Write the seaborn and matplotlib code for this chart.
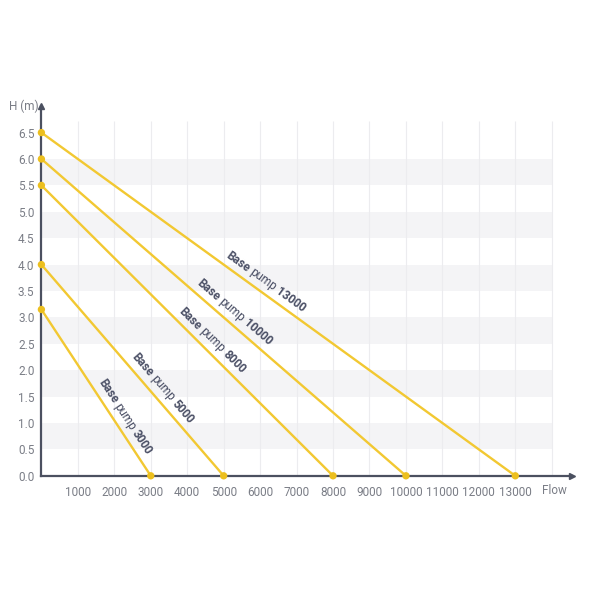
import numpy as np
import pandas as pd
import seaborn as sns
import matplotlib.pyplot as plt

# Pump curves: max flow (H = 0) and max head (flow = 0)
pumps = ['3000', '5000', '8000', '10000', '13000']
max_flow = [3000, 5000, 8000, 10000, 13000]
max_head = [3.15, 4.0, 5.5, 6.0, 6.5]
label_frac = [0.68, 0.62, 0.56, 0.51, 0.46]   # where the label sits along the line

x_ticks = list(range(1000, 14000, 1000))
y_ticks = [i * 0.5 for i in range(14)]

rows = []
for p, q, h in zip(pumps, max_flow, max_head):
    rows.append({'pump': p, 'flow': 0, 'head': h})
    rows.append({'pump': p, 'flow': q, 'head': 0})
df = pd.DataFrame(rows)

sns.set_theme(style='white')
plt.rcParams['font.family'] = ['Roboto', 'DejaVu Sans']

line_col = '#f2c832'
dot_col = '#ecbf1e'
axis_col = '#4b5060'
tick_col = '#7a7d86'
text_col = '#4b5066'
fs = 8.5

fig = plt.figure(figsize=(6, 6), dpi=100)
ax = fig.add_axes([0.069, 0.207, 0.884, 0.616])
ax.set_xlim(0, 14550)
ax.set_ylim(0, 7.0)

# light grey bands and vertical grid
for lo in [0.5, 1.5, 2.5, 3.5, 4.5, 5.5]:
    ax.fill_between([0, 14000], lo, lo + 0.5, color='#f4f4f6', lw=0, zorder=0)
ax.vlines(list(range(1000, 15000, 1000)), 0, 6.72, color='#ececef', lw=0.8, zorder=0.5)

sns.lineplot(data=df, x='flow', y='head', units='pump', estimator=None,
             color=line_col, lw=1.7, ax=ax, zorder=3)
sns.scatterplot(data=df, x='flow', y='head', color=dot_col, s=28,
                edgecolor='none', ax=ax, zorder=4, clip_on=False)

for s in ['top', 'right']:
    ax.spines[s].set_visible(False)
for s in ['left', 'bottom']:
    ax.spines[s].set_color(axis_col)
    ax.spines[s].set_linewidth(1.6)
ax.plot(1, 0, '>', color=axis_col, ms=4, transform=ax.transAxes, clip_on=False)
ax.plot(0, 1, '^', color=axis_col, ms=4, transform=ax.transAxes, clip_on=False)

ax.set_xticks(x_ticks)
ax.set_xticklabels([str(t) for t in x_ticks])
ax.set_yticks(y_ticks)
ax.set_yticklabels([f'{t:.1f}' for t in y_ticks])
ax.tick_params(axis='both', length=0, labelsize=fs, labelcolor=tick_col)
ax.tick_params(axis='x', pad=7)
ax.tick_params(axis='y', pad=5)
ax.set_xlabel('')
ax.set_ylabel('')

ax.text(-0.005, 1.0, 'H (m)', transform=ax.transAxes, ha='right', va='center',
        fontsize=fs, color=tick_col)
ax.annotate('Flow', xy=(13740, 0), xytext=(0, -10.5), textcoords='offset points',
            ha='left', va='center', fontsize=fs, color=tick_col,
            annotation_clip=False)

# rotated labels: bold / regular / bold parts
fig.canvas.draw()
renderer = fig.canvas.get_renderer()


def part_width(s, weight):
    t = fig.text(0, 0, s, fontsize=fs, fontweight=weight)
    w = t.get_window_extent(renderer).width
    t.remove()
    return w


space = part_width('a a', 'normal') - part_width('aa', 'normal')
for p, q, h, f in zip(pumps, max_flow, max_head, label_frac):
    p0 = ax.transData.transform((0, h))
    p1 = ax.transData.transform((q, 0))
    d = p1 - p0
    ang = np.degrees(np.arctan2(d[1], d[0]))
    u = d / np.hypot(*d)
    n = np.array([-u[1], u[0]])
    if n[1] < 0:
        n = -n
    cx, cy = q * f, h * (1 - f)
    pieces = [('bold', 'Base'), ('normal', 'pump'), ('bold', p)]
    widths = [part_width(s, w) for w, s in pieces]
    total = sum(widths) + 2 * space
    start = -total / 2
    for (w, s), wd in zip(pieces, widths):
        off = u * (start + wd / 2) + n * 11
        ax.annotate(s, xy=(cx, cy), xytext=(off[0], off[1]),
                    textcoords='offset pixels', rotation=ang,
                    rotation_mode='anchor', ha='center', va='center',
                    fontsize=fs, fontweight=w, color=text_col, zorder=5)
        start += wd + space

fig.savefig('out.png', dpi=100)
